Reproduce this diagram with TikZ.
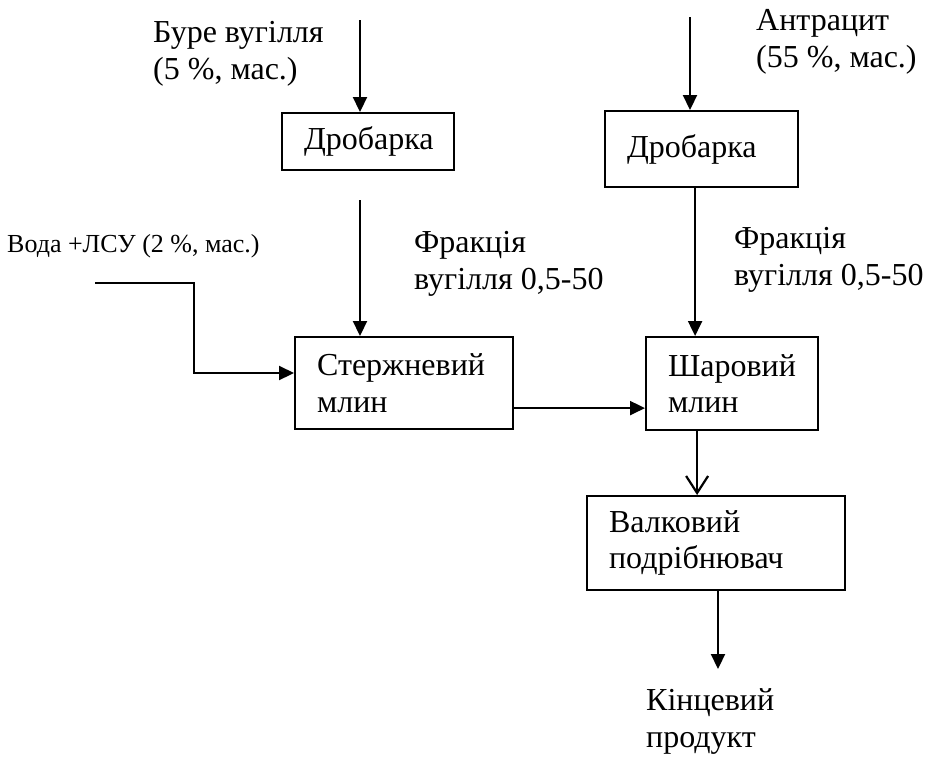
\documentclass[tikz,border=0pt]{standalone}
\usepackage{fontspec}
\setmainfont{Liberation Serif}
\usetikzlibrary{arrows.meta}
\begin{document}
\begin{tikzpicture}[x=1pt,y=-1pt,
  every node/.style={font=\fontsize{32}{36.5}\selectfont},
  box/.style={draw, line width=2.2pt, inner xsep=22pt, inner ysep=0pt, align=left, anchor=north west},
  lbl/.style={inner sep=0pt, anchor=base west, align=left},
  arr/.style={line width=2.2pt, -{Triangle[length=15pt,width=14pt]}},
  oarr/.style={line width=2.2pt, -{Straight Barb[length=17pt,width=22pt,line width=2.2pt]}}]
\useasboundingbox (0,0) rectangle (935,756);
% boxes
\node[box, text width=128pt, minimum height=57pt] (d1) at (281,112) {Дробарка};
\node[box, text width=149pt, minimum height=76pt] (d2) at (604,110) {Дробарка};
\node[box, text width=174pt, minimum height=92pt] (s) at (294,336) {Стержневий\\млин};
\node[box, text width=128pt, minimum height=93pt] (sh) at (645,336) {Шаровий\\млин};
\node[box, text width=214pt, minimum height=94pt] (v) at (586,495) {Валковий\\подрібнювач};
% labels (anchor = baseline of last line)
\node[lbl] (tb) at (153,79) {Буре вугілля\\(5 \%, мас.)};
\node[lbl] (ta) at (756,67) {Антрацит\\(55 \%, мас.)};
\node[lbl, font=\fontsize{26}{30}\selectfont] (tw) at (7,252) {Вода +ЛСУ (2 \%, мас.)};
\node[lbl] (tf1) at (414,289) {Фракція\\вугілля 0,5-50};
\node[lbl] (tf2) at (734,285) {Фракція\\вугілля 0,5-50};
\node[lbl] (tk) at (646,747) {Кінцевий\\продукт};
% free ends
\coordinate (in1) at (360,20);
\coordinate (f1) at (360,200);
\coordinate (in2) at (690,17);
\coordinate (w0) at (95,283);
\coordinate (wc) at (194,373);
\coordinate (out) at (718,669);
% connectors
\draw[arr] (in1) -- (in1 |- d1.north);
\draw[arr] (f1) -- (f1 |- s.north);
\draw[arr] (w0) -| (wc) -- (wc -| s.west);
\draw[arr] ([yshift=-25pt]s.east) -- ([yshift=-25pt]s.east -| sh.west);
\draw[arr] (in2) -- (in2 |- d2.north);
\draw[arr] ([xshift=-6.5pt]d2.south) -- ([xshift=-6.5pt]d2.south |- sh.north);
\draw[oarr] ([xshift=-35pt]sh.south) -- ([xshift=-35pt]sh.south |- v.north);
\draw[arr] (out |- v.south) -- (out);
\end{tikzpicture}
\end{document}
